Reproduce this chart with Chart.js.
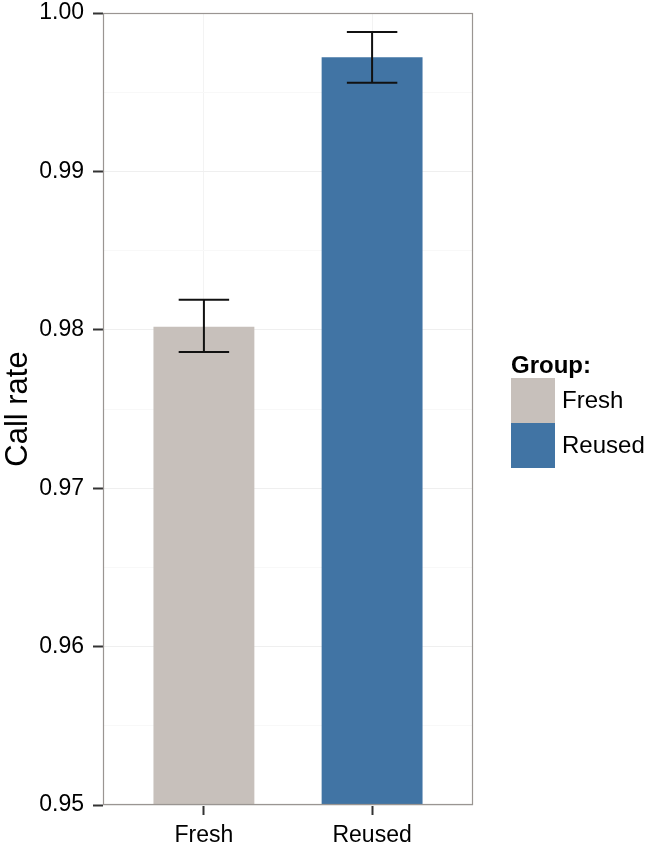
<!DOCTYPE html>
<html>
<head>
<meta charset="utf-8">
<script src="https://cdn.jsdelivr.net/npm/chart.js@4/dist/chart.umd.min.js"></script>
<style>
html,body{margin:0;padding:0;background:#fff;}
canvas{display:block;}
</style>
</head>
<body>
<canvas id="c" width="648" height="847"></canvas>
<script>
const categories = ['Fresh', 'Reused'];
const callRate = [0.9802, 0.9972];
const errLow = [0.9786, 0.9956];
const errHigh = [0.9819, 0.9988];
const yTicks = [0.95, 0.96, 0.97, 0.98, 0.99, 1.00];
const legendTitle = 'Group:';
const barColors = ['#C7C0BB', '#4174A4'];
const FONT = '"Liberation Sans", Arial, sans-serif';

const overlay = {
  id: 'overlay',
  afterDatasetsDraw(chart) {
    const ctx = chart.ctx;
    const a = chart.chartArea;
    const ys = chart.scales.y;
    const meta = chart.getDatasetMeta(0);
    ctx.save();
    // error bars
    ctx.strokeStyle = '#111';
    ctx.lineWidth = 2;
    meta.data.forEach((el, i) => {
      const x = el.x;
      const half = el.width / 4;
      const yh = ys.getPixelForValue(errHigh[i]);
      const yl = ys.getPixelForValue(errLow[i]);
      ctx.beginPath();
      ctx.moveTo(x - half, yh); ctx.lineTo(x + half, yh);
      ctx.moveTo(x, yh); ctx.lineTo(x, yl);
      ctx.moveTo(x - half, yl); ctx.lineTo(x + half, yl);
      ctx.stroke();
    });
    // panel border
    ctx.strokeStyle = '#9a9592';
    ctx.lineWidth = 1.2;
    ctx.strokeRect(a.left + 0.5, a.top + 0.5, a.right - a.left - 1, a.bottom - a.top - 1);
    // legend
    const lx = 511, boxW = 44, boxH = 45, top = 378;
    ctx.fillStyle = '#000';
    ctx.font = 'bold 24px ' + FONT;
    ctx.textBaseline = 'alphabetic';
    ctx.textAlign = 'left';
    ctx.fillText(legendTitle, lx, 373);
    ctx.font = '24px ' + FONT;
    categories.forEach((c, i) => {
      const y0 = top + i * boxH;
      ctx.fillStyle = barColors[i];
      ctx.fillRect(lx, y0, boxW, boxH);
      ctx.fillStyle = '#000';
      ctx.textBaseline = 'middle';
      ctx.fillText(c, lx + boxW + 7, y0 + boxH / 2 + 1);
    });
    ctx.restore();
  }
};

new Chart(document.getElementById('c'), {
  type: 'bar',
  data: {
    datasets: [{
      data: categories.map((c, i) => ({ x: i, y: callRate[i] })),
      backgroundColor: barColors,
      borderWidth: 0,
      categoryPercentage: 1,
      barPercentage: 0.6,
      base: 0.95
    }]
  },
  options: {
    responsive: false,
    animation: false,
    devicePixelRatio: 1,
    layout: { padding: { left: 0, top: 13, right: 175, bottom: 0 } },
    plugins: { legend: { display: false }, tooltip: { enabled: false } },
    scales: {
      x: {
        type: 'linear',
        offset: false,
        min: -0.6,
        max: 1.6,
        afterBuildTicks(scale) { scale.ticks = categories.map((c, i) => ({ value: i })); },
        afterFit(scale) {
          scale.height = 42;
          scale.paddingLeft = 0; scale.paddingRight = 0;
        },
        ticks: {
          autoSkip: false,
          maxRotation: 0,
          padding: 7,
          color: '#000',
          font: { family: FONT, size: 23 },
          callback: (v) => categories[v]
        },
        grid: { offset: false, color: '#f3f3f3', lineWidth: 1, tickColor: '#333', tickLength: 10, tickWidth: 2 },
        border: { display: false }
      },
      y: {
        type: 'linear',
        min: yTicks[0],
        max: yTicks[yTicks.length - 1],
        afterBuildTicks(scale) {
          const t = [];
          yTicks.forEach((v, i) => {
            t.push({ value: v });
            if (i < yTicks.length - 1) t.push({ value: (v + yTicks[i + 1]) / 2 });
          });
          scale.ticks = t;
        },
        afterFit(scale) {
          scale.width = 103;
          scale.paddingTop = 0; scale.paddingBottom = 0;
        },
        ticks: {
          autoSkip: false,
          padding: 9,
          color: '#000',
          font: { family: FONT, size: 23 },
          callback: (v, i) => (i % 2 === 0 ? v.toFixed(2) : '')
        },
        grid: {
          color: (c) => (c.index % 2 === 0 ? '#efefef' : '#f8f8f8'),
          lineWidth: 1,
          tickColor: (c) => (c.index % 2 === 0 ? '#333' : 'rgba(0,0,0,0)'),
          tickLength: 10,
          tickWidth: 2
        },
        border: { display: false },
        title: {
          display: true,
          text: 'Call rate',
          color: '#000',
          font: { family: FONT, size: 31 },
          padding: { top: 0, bottom: 0 }
        }
      }
    }
  },
  plugins: [overlay]
});
</script>
</body>
</html>
